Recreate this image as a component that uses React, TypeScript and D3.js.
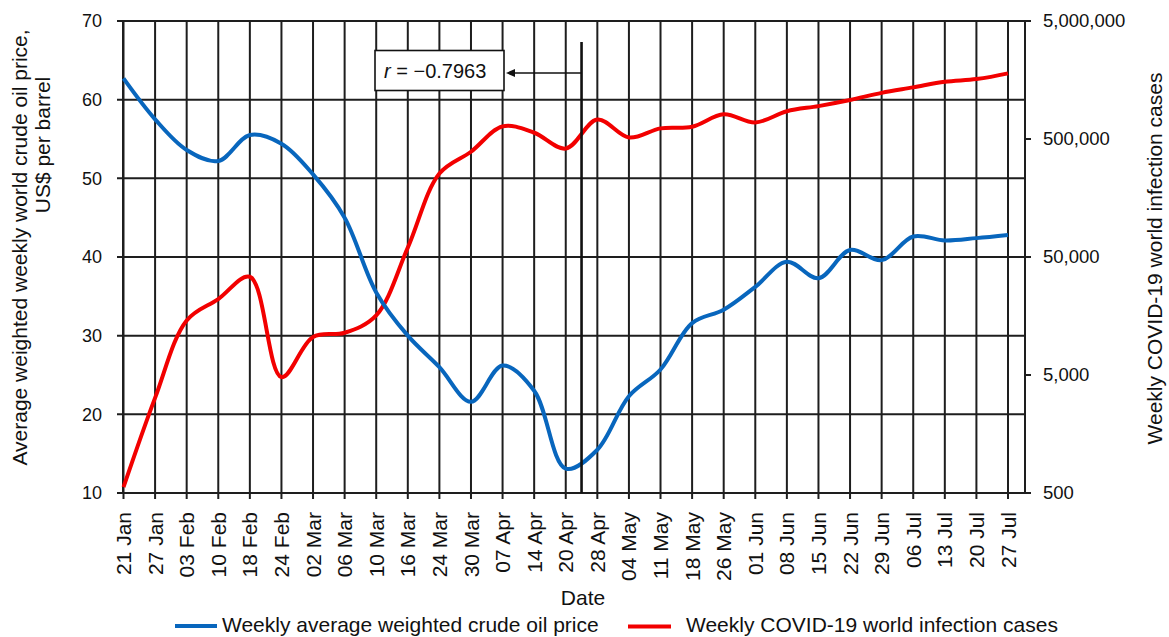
import React from "react";
import * as d3 from "d3";

// Weekly dates on the category axis
const dates = [
  "21 Jan", "27 Jan", "03 Feb", "10 Feb", "18 Feb", "24 Feb", "02 Mar", "06 Mar",
  "10 Mar", "16 Mar", "24 Mar", "30 Mar", "07 Apr", "14 Apr", "20 Apr", "28 Apr",
  "04 May", "11 May", "18 May", "26 May", "01 Jun", "08 Jun", "15 Jun", "22 Jun",
  "29 Jun", "06 Jul", "13 Jul", "20 Jul", "27 Jul",
];

// Weekly average weighted crude oil price, US$ per barrel
const oilPrice = [
  62.7, 57.5, 53.6, 52.2, 55.5, 54.4, 50.5, 45.0, 35.5, 30.0, 26.0, 21.6, 26.2, 23.0,
  13.1, 15.5, 22.3, 25.7, 31.6, 33.3, 36.2, 39.4, 37.3, 40.9, 39.6, 42.6, 42.1, 42.4, 42.8,
];

// Weekly COVID-19 world infection cases
const covidCases = [
  560, 3200, 14500, 22000, 34000, 4800, 10500, 11400, 16000, 60000, 255000, 390000,
  640000, 565000, 415000, 730000, 515000, 615000, 635000, 810000, 690000, 860000,
  950000, 1070000, 1230000, 1370000, 1530000, 1610000, 1800000,
];

const leftTicks = [10, 20, 30, 40, 50, 60, 70];
const rightTicks = [500, 5000, 50000, 500000, 5000000];

const correlationLabel = "−0.7963";
const oilLegend = "Weekly average weighted crude oil price";
const covidLegend = "Weekly COVID-19 world infection cases";

const W = 1169;
const H = 637;
const left = 123;
const right = 1025;
const top = 21;
const bottom = 493;
const font = "Arial, 'Liberation Sans', Helvetica, sans-serif";
const grid = "#1e1e1e";
const blue = "#0866BD";
const red = "#F20000";

export default function App() {
  const x = d3.scalePoint<string>().domain(dates).range([123.5, 1008]);
  const yL = d3.scaleLinear().domain([10, 70]).range([bottom, top]);
  const yR = d3.scaleLog().domain([500, 5000000]).range([bottom, top]);

  const oilLine = d3
    .line<number>()
    .x((_, i) => x(dates[i]) as number)
    .y((d) => yL(d))
    .curve(d3.curveCatmullRom.alpha(0.5));
  const covidLine = d3
    .line<number>()
    .x((_, i) => x(dates[i]) as number)
    .y((d) => yR(d))
    .curve(d3.curveCatmullRom.alpha(0.5));

  const fmt = d3.format(",");
  // marker sits halfway between 20 Apr and 28 Apr
  const markX = ((x("20 Apr") as number) + (x("28 Apr") as number)) / 2;

  return (
    <svg
      width={W}
      height={H}
      style={{ position: "absolute", left: 0, top: 0, background: "#fff" }}
      fontFamily={font}
    >
      {/* horizontal gridlines */}
      {leftTicks.map((t) => (
        <line key={"h" + t} x1={left - 6} x2={right} y1={yL(t)} y2={yL(t)} stroke={grid} strokeWidth={2} />
      ))}
      {/* vertical gridlines with ticks below the axis */}
      {dates.map((d) => (
        <line key={"v" + d} x1={x(d)} x2={x(d)} y1={top} y2={bottom + 6} stroke={grid} strokeWidth={2} />
      ))}
      {/* axes */}
      <line x1={left} x2={left} y1={top} y2={bottom} stroke={grid} strokeWidth={2} />
      <line x1={right} x2={right} y1={top} y2={bottom} stroke={grid} strokeWidth={2} />
      {rightTicks.map((t) => (
        <line key={"rt" + t} x1={right} x2={right + 6} y1={yR(t)} y2={yR(t)} stroke={grid} strokeWidth={2} />
      ))}

      {/* left tick labels */}
      {leftTicks.map((t) => (
        <text key={"lt" + t} x={102} y={yL(t)} dy="0.35em" textAnchor="end" fontSize={18} fill="#111">
          {t}
        </text>
      ))}
      {/* right tick labels */}
      {rightTicks.map((t) => (
        <text key={"rl" + t} x={1043} y={yR(t)} dy="0.35em" textAnchor="start" fontSize={18.5} fill="#111">
          {fmt(t)}
        </text>
      ))}
      {/* category labels */}
      {dates.map((d) => (
        <text
          key={"xl" + d}
          transform={`translate(${x(d)},512) rotate(-90)`}
          dy="0.36em"
          textAnchor="end"
          fontSize={21}
          fill="#111"
        >
          {d}
        </text>
      ))}

      {/* axis titles */}
      <text transform="translate(27,247.5) rotate(-90)" textAnchor="middle" fontSize={21} fill="#111">
        Average weighted weekly world crude oil price,
      </text>
      <text transform="translate(50,145) rotate(-90)" textAnchor="middle" fontSize={21} fill="#111">
        US$ per barrel
      </text>
      <text transform="translate(1162,258.5) rotate(-90)" textAnchor="middle" fontSize={21} fill="#111">
        Weekly COVID-19 world infection cases
      </text>
      <text x={583} y={605} textAnchor="middle" fontSize={21} fill="#111">
        Date
      </text>

      {/* series */}
      <path d={covidLine(covidCases) || ""} fill="none" stroke={red} strokeWidth={4} strokeLinejoin="round" />
      <path d={oilLine(oilPrice) || ""} fill="none" stroke={blue} strokeWidth={4} strokeLinejoin="round" />

      {/* correlation marker */}
      <line x1={markX} x2={markX} y1={42} y2={bottom} stroke="#111" strokeWidth={2.6} />
      <line x1={markX} x2={514} y1={73} y2={73} stroke="#111" strokeWidth={1.6} />
      <polygon points={`506,73 515,69 515,77`} fill="#111" />
      <rect x={375} y={50.5} width={129} height={40} fill="#fff" stroke="#111" strokeWidth={1.6} />
      <text x={384} y={78} fontSize={20} fill="#111">
        <tspan fontStyle="italic">r</tspan>
        {" = " + correlationLabel}
      </text>

      {/* legend */}
      <line x1={175} x2={217} y1={626} y2={626} stroke={blue} strokeWidth={4} />
      <text x={222} y={632} fontSize={21} fill="#111">
        {oilLegend}
      </text>
      <line x1={628} x2={671} y1={626.5} y2={626.5} stroke={red} strokeWidth={4} />
      <text x={686} y={632} fontSize={21} fill="#111">
        {covidLegend}
      </text>
    </svg>
  );
}
